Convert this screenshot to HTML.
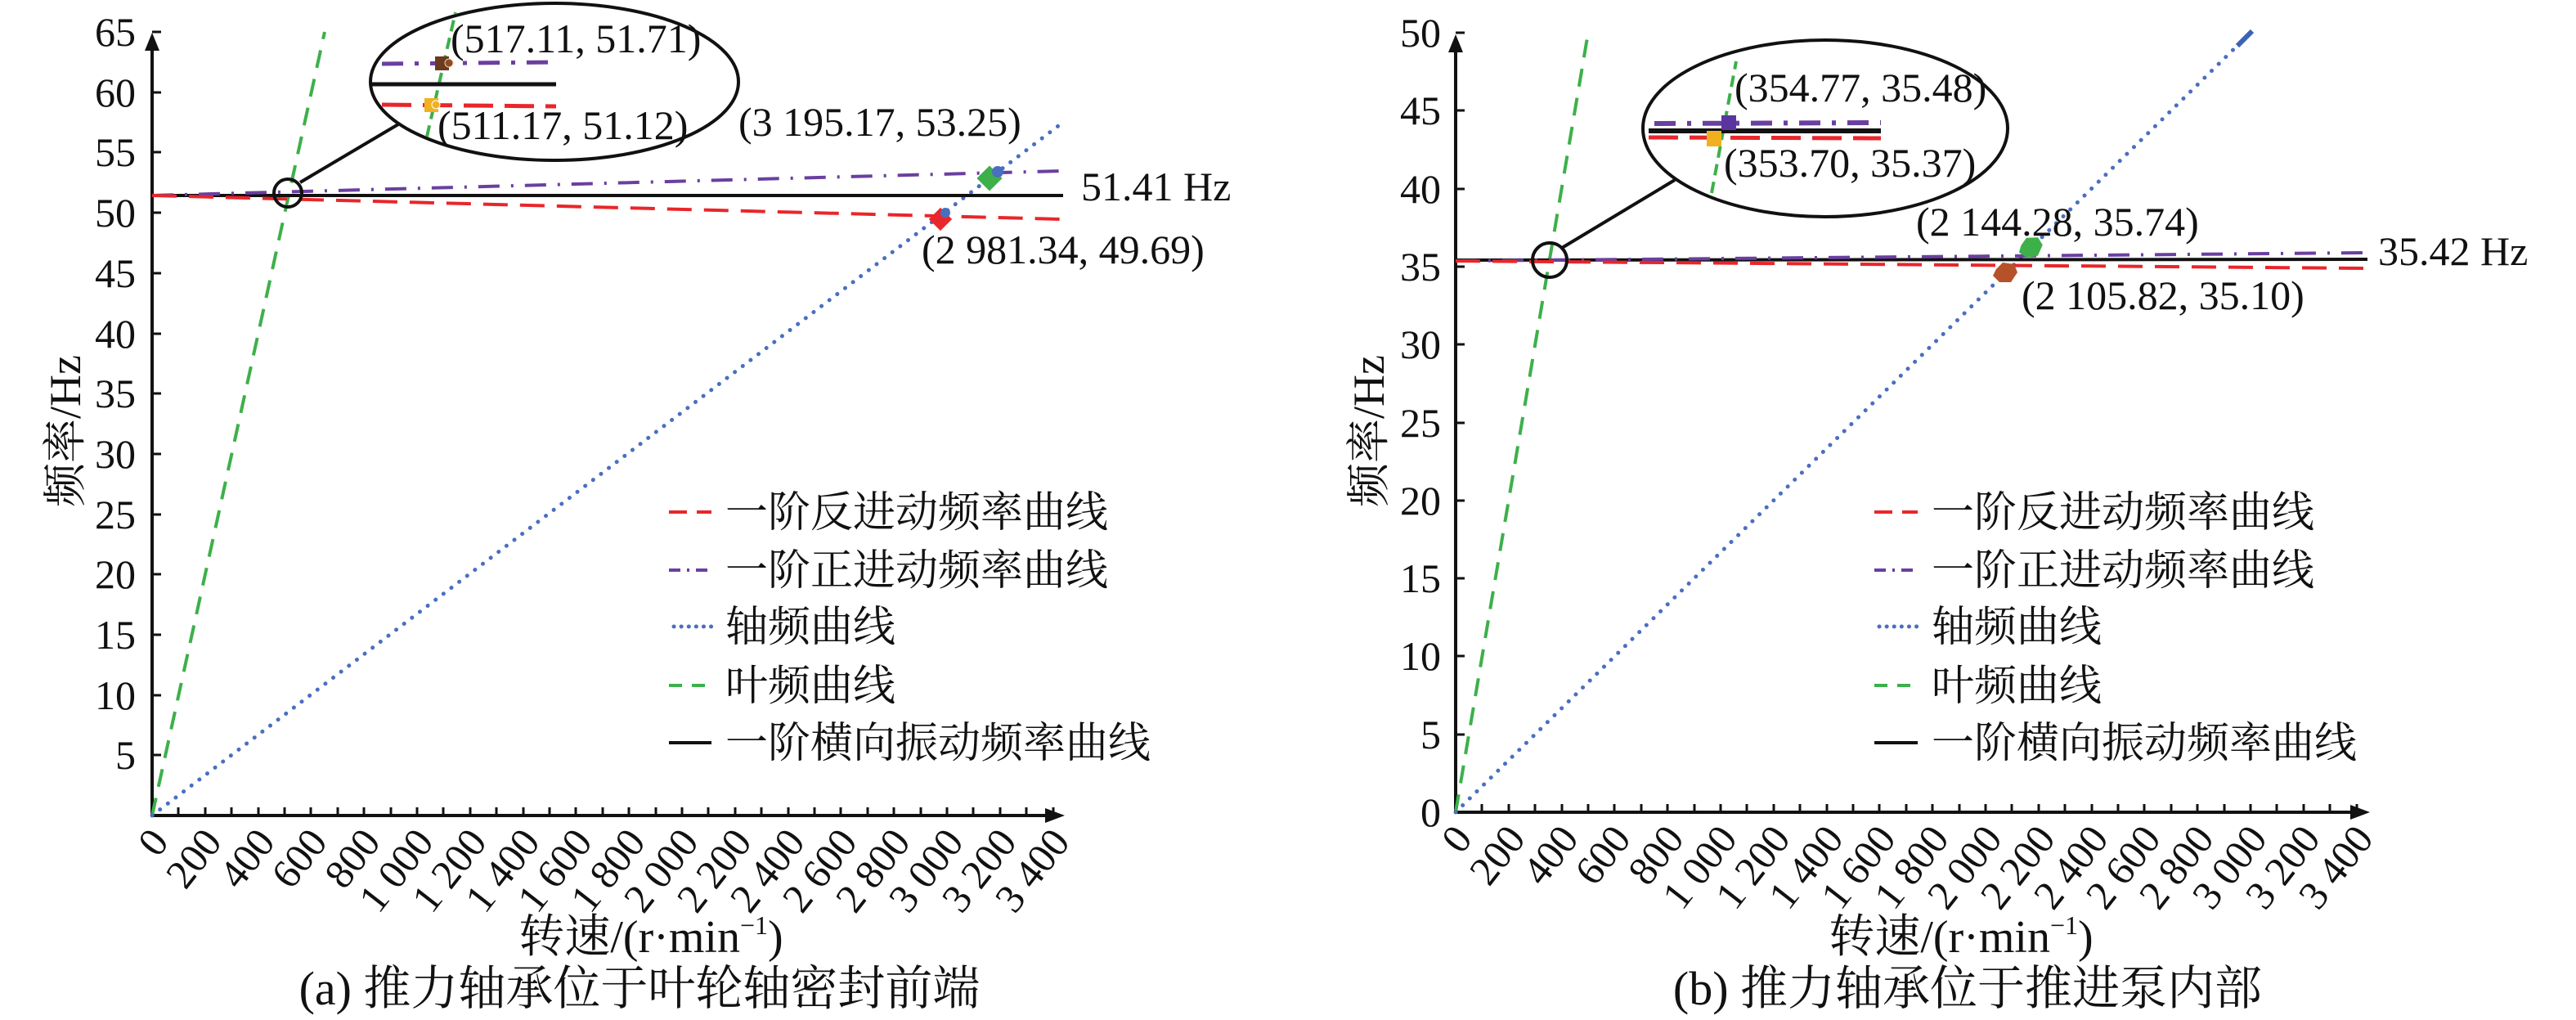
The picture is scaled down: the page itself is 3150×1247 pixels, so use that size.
<!DOCTYPE html>
<html><head><meta charset="utf-8"><style>
html,body{margin:0;padding:0;background:#fff;}
svg{display:block;}
text{font-family:"Liberation Serif","Noto Serif CJK SC",serif;fill:#111;}
</style></head><body>
<svg width="3150" height="1247" viewBox="0 0 3150 1247" xmlns="http://www.w3.org/2000/svg">

<g stroke="#111" stroke-width="4" fill="none">
  <line x1="186" y1="997" x2="186" y2="60"/>
  <line x1="186" y1="997" x2="1280" y2="997"/>
</g>
<path d="M186,40 L177,62 L195,62 Z" fill="#111"/>
<path d="M1302,997 L1278,988 L1278,1006 Z" fill="#111"/>
<g stroke="#111" stroke-width="3">
  <line x1="186" y1="39" x2="197" y2="39"/><line x1="186" y1="113" x2="197" y2="113"/>
  <line x1="186" y1="186" x2="197" y2="186"/><line x1="186" y1="260" x2="197" y2="260"/>
  <line x1="186" y1="334" x2="197" y2="334"/><line x1="186" y1="408" x2="197" y2="408"/>
  <line x1="186" y1="481" x2="197" y2="481"/><line x1="186" y1="555" x2="197" y2="555"/>
  <line x1="186" y1="629" x2="197" y2="629"/><line x1="186" y1="702" x2="197" y2="702"/>
  <line x1="186" y1="776" x2="197" y2="776"/><line x1="186" y1="850" x2="197" y2="850"/>
  <line x1="186" y1="923" x2="197" y2="923"/>
</g>
<g font-size="50" text-anchor="end">
  <text x="166" y="56">65</text><text x="166" y="130">60</text><text x="166" y="203">55</text>
  <text x="166" y="277">50</text><text x="166" y="351">45</text><text x="166" y="425">40</text>
  <text x="166" y="498">35</text><text x="166" y="572">30</text><text x="166" y="646">25</text>
  <text x="166" y="719">20</text><text x="166" y="793">15</text><text x="166" y="867">10</text>
  <text x="166" y="940">5</text>
</g>

<g stroke="#111" stroke-width="4" fill="none">
  <line x1="1780" y1="993" x2="1780" y2="62"/>
  <line x1="1780" y1="993" x2="2876" y2="993"/>
</g>
<path d="M1780,42 L1771,64 L1789,64 Z" fill="#111"/>
<path d="M2898,993 L2874,984 L2874,1002 Z" fill="#111"/>

<line x1="186" y1="997" x2="397" y2="39" stroke="#3db04a" stroke-width="4" stroke-dasharray="22 14"/>
<line x1="186" y1="997" x2="1294" y2="154" stroke="#4a6fc0" stroke-width="5" stroke-dasharray="0.1 12" stroke-linecap="round"/>
<line x1="186" y1="239" x2="1300" y2="239" stroke="#111" stroke-width="4"/>
<line x1="186" y1="239" x2="1297" y2="209" stroke="#6a3fa0" stroke-width="4" stroke-dasharray="26 14 3 14"/>
<line x1="186" y1="239" x2="1297" y2="268" stroke="#e8262b" stroke-width="4" stroke-dasharray="30 15"/>
<rect x="1199" y="207" width="22" height="22" fill="#3db04a" transform="rotate(45 1210 218)"/>
<circle cx="1220" cy="210" r="7" fill="#4a6fc0"/>
<rect x="1140" y="258" width="20" height="20" fill="#e8262b" transform="rotate(45 1150 268)"/>
<circle cx="1156" cy="260" r="6" fill="#4a6fc0"/>
<circle cx="352" cy="236" r="17" fill="none" stroke="#111" stroke-width="4"/>
<line x1="367" y1="223" x2="487" y2="152" stroke="#111" stroke-width="4"/>
<ellipse cx="678" cy="100" rx="225" ry="96" fill="#fff" stroke="#111" stroke-width="4"/>
<line x1="522" y1="167" x2="557" y2="15" stroke="#3db04a" stroke-width="4" stroke-dasharray="14 8"/>
<line x1="455" y1="103" x2="680" y2="103" stroke="#111" stroke-width="5"/>
<line x1="467" y1="78" x2="680" y2="76" stroke="#6a3fa0" stroke-width="5" stroke-dasharray="26 14 5 14"/>
<line x1="467" y1="128" x2="680" y2="130" stroke="#e8262b" stroke-width="5" stroke-dasharray="36 14"/>
<rect x="532" y="69" width="17" height="17" fill="#6b3a20"/><circle cx="549" cy="77" r="5" fill="#8b4a2a" stroke="#f0d0a0" stroke-width="1"/>
<rect x="519" y="120" width="17" height="17" fill="#f0b020"/><circle cx="533" cy="128" r="5" fill="#f0b020" stroke="#fff" stroke-width="1"/>
<g font-size="50">
  <text x="551" y="64">(517.11, 51.71)</text>
  <text x="535" y="170">(511.17, 51.12)</text>
  <text x="903" y="166">(3 195.17, 53.25)</text>
  <text x="1322" y="245">51.41 Hz</text>
  <text x="1127" y="322">(2 981.34, 49.69)</text>
</g>
<g stroke-width="4">
  <line x1="818" y1="626" x2="870" y2="626" stroke="#e8262b" stroke-dasharray="22 12"/>
  <line x1="818" y1="697" x2="870" y2="697" stroke="#6a3fa0" stroke-dasharray="14 8 3 8"/>
  <line x1="824" y1="766" x2="870" y2="766" stroke="#4a6fc0" stroke-width="5" stroke-dasharray="0.1 9" stroke-linecap="round"/>
  <line x1="818" y1="838" x2="862" y2="838" stroke="#3db04a" stroke-dasharray="16 12"/>
  <line x1="818" y1="908" x2="870" y2="908" stroke="#111"/>
</g>
<g font-size="52">
  <text x="887" y="644">一阶反进动频率曲线</text>
  <text x="887" y="715">一阶正进动频率曲线</text>
  <text x="887" y="784">轴频曲线</text>
  <text x="887" y="856">叶频曲线</text>
  <text x="887" y="926">一阶横向振动频率曲线</text>
</g>
<text font-size="54" transform="translate(98,527) rotate(-90)" text-anchor="middle">频率/Hz</text>
<text x="796" y="1164" font-size="56" text-anchor="middle">转速/(r·min<tspan font-size="32" dy="-22">−1</tspan><tspan dy="22">)</tspan></text>
<text x="782" y="1228" font-size="58" text-anchor="middle">(a) 推力轴承位于叶轮轴密封前端</text>

<line x1="1780" y1="993" x2="1942" y2="40" stroke="#3db04a" stroke-width="4" stroke-dasharray="22 14"/>
<line x1="1780" y1="993" x2="2752" y2="40" stroke="#4a6fc0" stroke-width="5" stroke-dasharray="0.1 12" stroke-linecap="round"/>
<line x1="2736" y1="56" x2="2754" y2="38" stroke="#3a64b8" stroke-width="6"/>
<line x1="1780" y1="318" x2="2895" y2="317" stroke="#111" stroke-width="4"/>
<line x1="1780" y1="319" x2="2893" y2="309" stroke="#6a3fa0" stroke-width="4" stroke-dasharray="26 14 3 14"/>
<line x1="1780" y1="319" x2="2893" y2="328" stroke="#e8262b" stroke-width="4" stroke-dasharray="30 15"/>
<polygon points="2472,298 2480,290 2494,292 2498,302 2490,314 2476,314 2468,306" fill="#3db04a" transform="rotate(-10 2483 302)"/>
<polygon points="2441,329 2449,321 2463,323 2467,333 2459,345 2445,345 2437,337" fill="#b5522a"/>
<circle cx="1895" cy="318" r="21" fill="none" stroke="#111" stroke-width="4"/>
<line x1="1910" y1="303" x2="2048" y2="220" stroke="#111" stroke-width="4"/>
<ellipse cx="2232" cy="157" rx="223" ry="108" fill="#fff" stroke="#111" stroke-width="4"/>
<line x1="2093" y1="236" x2="2123" y2="75" stroke="#3db04a" stroke-width="4" stroke-dasharray="14 8"/>
<line x1="2023" y1="151" x2="2300" y2="150" stroke="#6a3fa0" stroke-width="6" stroke-dasharray="26 14 5 14"/>
<line x1="2016" y1="160" x2="2300" y2="160" stroke="#111" stroke-width="6"/>
<line x1="2016" y1="168" x2="2300" y2="169" stroke="#e8262b" stroke-width="5" stroke-dasharray="36 14"/>
<rect x="2105" y="141" width="18" height="18" fill="#5a35a0"/>
<rect x="2087" y="160" width="18" height="19" fill="#f0b020"/>
<g font-size="50">
  <text x="2121" y="124">(354.77, 35.48)</text>
  <text x="2108" y="216">(353.70, 35.37)</text>
  <text x="2343" y="288">(2 144.28, 35.74)</text>
  <text x="2908" y="324">35.42 Hz</text>
  <text x="2472" y="378">(2 105.82, 35.10)</text>
</g>
<g stroke-width="4">
  <line x1="2292" y1="626" x2="2345" y2="626" stroke="#e8262b" stroke-dasharray="22 12"/>
  <line x1="2292" y1="697" x2="2345" y2="697" stroke="#6a3fa0" stroke-dasharray="14 8 3 8"/>
  <line x1="2298" y1="766" x2="2345" y2="766" stroke="#4a6fc0" stroke-width="5" stroke-dasharray="0.1 9" stroke-linecap="round"/>
  <line x1="2292" y1="838" x2="2336" y2="838" stroke="#3db04a" stroke-dasharray="16 12"/>
  <line x1="2292" y1="908" x2="2345" y2="908" stroke="#111"/>
</g>
<g font-size="52">
  <text x="2362" y="644">一阶反进动频率曲线</text>
  <text x="2362" y="715">一阶正进动频率曲线</text>
  <text x="2362" y="784">轴频曲线</text>
  <text x="2362" y="856">叶频曲线</text>
  <text x="2362" y="926">一阶横向振动频率曲线</text>
</g>
<text font-size="54" transform="translate(1692,527) rotate(-90)" text-anchor="middle">频率/Hz</text>
<text x="2398" y="1164" font-size="56" text-anchor="middle">转速/(r·min<tspan font-size="32" dy="-22">−1</tspan><tspan dy="22">)</tspan></text>
<text x="2406" y="1228" font-size="58" text-anchor="middle">(b) 推力轴承位于推进泵内部</text>

<g stroke="#111" stroke-width="3">
  <line x1="1780" y1="40" x2="1791" y2="40"/><line x1="1780" y1="135" x2="1791" y2="135"/>
  <line x1="1780" y1="231" x2="1791" y2="231"/><line x1="1780" y1="326" x2="1791" y2="326"/>
  <line x1="1780" y1="421" x2="1791" y2="421"/><line x1="1780" y1="517" x2="1791" y2="517"/>
  <line x1="1780" y1="612" x2="1791" y2="612"/><line x1="1780" y1="707" x2="1791" y2="707"/>
  <line x1="1780" y1="802" x2="1791" y2="802"/><line x1="1780" y1="898" x2="1791" y2="898"/>
</g>
<g font-size="50" text-anchor="end">
  <text x="1762" y="57">50</text><text x="1762" y="152">45</text><text x="1762" y="248">40</text>
  <text x="1762" y="343">35</text><text x="1762" y="438">30</text><text x="1762" y="534">25</text>
  <text x="1762" y="629">20</text><text x="1762" y="724">15</text><text x="1762" y="819">10</text>
  <text x="1762" y="915">5</text><text x="1762" y="1010">0</text>
</g>

<g stroke="#111" stroke-width="3">
<path d="M218,997v-10M251,997v-10M283,997v-10M316,997v-10M348,997v-10M380,997v-10M413,997v-10M445,997v-10M478,997v-10M510,997v-10M542,997v-10M575,997v-10M607,997v-10M640,997v-10M672,997v-10M704,997v-10M737,997v-10M769,997v-10M802,997v-10M834,997v-10M866,997v-10M899,997v-10M931,997v-10M964,997v-10M996,997v-10M1028,997v-10M1061,997v-10M1093,997v-10M1126,997v-10M1158,997v-10M1190,997v-10M1223,997v-10M1255,997v-10M1288,997v-10"/>
<path d="M1812,993v-10M1845,993v-10M1877,993v-10M1910,993v-10M1942,993v-10M1974,993v-10M2007,993v-10M2039,993v-10M2072,993v-10M2104,993v-10M2136,993v-10M2169,993v-10M2201,993v-10M2234,993v-10M2266,993v-10M2298,993v-10M2331,993v-10M2363,993v-10M2396,993v-10M2428,993v-10M2460,993v-10M2493,993v-10M2525,993v-10M2558,993v-10M2590,993v-10M2622,993v-10M2655,993v-10M2687,993v-10M2720,993v-10M2752,993v-10M2784,993v-10M2817,993v-10M2849,993v-10M2882,993v-10"/>
</g>
<g font-size="50" text-anchor="end">
<text transform="translate(208,1030) rotate(-52)">0</text>
<text transform="translate(273,1030) rotate(-52)">200</text>
<text transform="translate(338,1030) rotate(-52)">400</text>
<text transform="translate(402,1030) rotate(-52)">600</text>
<text transform="translate(467,1030) rotate(-52)">800</text>
<text transform="translate(532,1030) rotate(-52)">1 000</text>
<text transform="translate(597,1030) rotate(-52)">1 200</text>
<text transform="translate(662,1030) rotate(-52)">1 400</text>
<text transform="translate(726,1030) rotate(-52)">1 600</text>
<text transform="translate(791,1030) rotate(-52)">1 800</text>
<text transform="translate(856,1030) rotate(-52)">2 000</text>
<text transform="translate(921,1030) rotate(-52)">2 200</text>
<text transform="translate(986,1030) rotate(-52)">2 400</text>
<text transform="translate(1050,1030) rotate(-52)">2 600</text>
<text transform="translate(1115,1030) rotate(-52)">2 800</text>
<text transform="translate(1180,1030) rotate(-52)">3 000</text>
<text transform="translate(1245,1030) rotate(-52)">3 200</text>
<text transform="translate(1310,1030) rotate(-52)">3 400</text>

<text transform="translate(1802,1026) rotate(-52)">0</text>
<text transform="translate(1867,1026) rotate(-52)">200</text>
<text transform="translate(1932,1026) rotate(-52)">400</text>
<text transform="translate(1996,1026) rotate(-52)">600</text>
<text transform="translate(2061,1026) rotate(-52)">800</text>
<text transform="translate(2126,1026) rotate(-52)">1 000</text>
<text transform="translate(2191,1026) rotate(-52)">1 200</text>
<text transform="translate(2256,1026) rotate(-52)">1 400</text>
<text transform="translate(2320,1026) rotate(-52)">1 600</text>
<text transform="translate(2385,1026) rotate(-52)">1 800</text>
<text transform="translate(2450,1026) rotate(-52)">2 000</text>
<text transform="translate(2515,1026) rotate(-52)">2 200</text>
<text transform="translate(2580,1026) rotate(-52)">2 400</text>
<text transform="translate(2644,1026) rotate(-52)">2 600</text>
<text transform="translate(2709,1026) rotate(-52)">2 800</text>
<text transform="translate(2774,1026) rotate(-52)">3 000</text>
<text transform="translate(2839,1026) rotate(-52)">3 200</text>
<text transform="translate(2904,1026) rotate(-52)">3 400</text>
</g>
</svg>
</body></html>
